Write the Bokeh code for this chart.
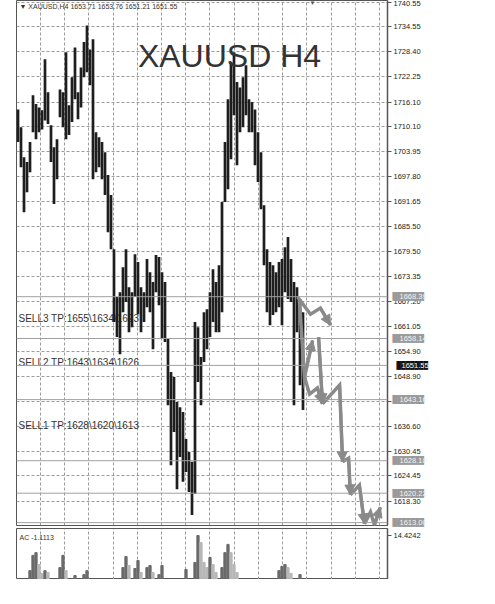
from bokeh.plotting import figure
from bokeh.models import (FixedTicker, PrintfTickFormatter, Span, Label, Arrow,
                          NormalHead, ColumnDataSource, Range1d, LinearAxis,
                          CustomJSTickFormatter)
from bokeh.layouts import column
from bokeh.embed import file_html
from bokeh.resources import INLINE

# ---------------- data ----------------
high = [1714.3, 1709.9, 1702.6, 1701.4, 1706.3, 1717.8, 1715.6, 1714.8, 1714.1, 1726.6,
        1718.5, 1710.4, 1705.0, 1707.0, 1719.2, 1718.5, 1728.3, 1715.3, 1722.2, 1729.5,
        1718.5, 1724.6, 1730.8, 1734.9, 1729.0, 1731.5, 1708.7, 1707.5, 1706.3, 1703.8,
        1698.2, 1693.3, 1680.0, 1668.3, 1669.5, 1675.6, 1680.0, 1670.7, 1669.5, 1678.8,
        1676.9, 1670.7, 1669.5, 1677.6, 1674.4, 1672.0, 1678.6, 1678.1, 1674.4, 1672.0,
        1658.0, 1649.9, 1648.7, 1642.6, 1641.3, 1640.1, 1633.5, 1630.3, 1627.9, 1662.2,
        1660.9, 1653.6, 1664.6, 1665.3, 1669.5, 1675.1, 1672.0, 1676.1, 1691.6, 1706.3,
        1716.8, 1725.9, 1728.3, 1721.0, 1719.7, 1722.2, 1725.1, 1716.8, 1716.1, 1714.3,
        1708.7, 1703.8, 1690.8, 1680.0, 1676.9, 1676.1, 1674.4, 1676.9, 1677.6, 1680.5,
        1683.0, 1677.6, 1672.0, 1670.7, 1667.8, 1664.6]
low = [1706.3, 1700.1, 1689.1, 1694.0, 1698.9, 1708.7, 1707.0, 1708.7, 1709.4, 1711.6,
       1710.7, 1701.4, 1691.1, 1697.2, 1712.4, 1709.9, 1707.0, 1708.0, 1711.2, 1716.8,
       1711.9, 1714.8, 1722.2, 1723.4, 1720.2, 1697.2, 1698.9, 1700.1, 1697.2, 1693.3,
       1684.2, 1680.0, 1662.2, 1658.5, 1654.3, 1664.6, 1667.1, 1659.7, 1660.9, 1668.3,
       1664.1, 1659.7, 1662.2, 1665.8, 1664.6, 1655.5, 1669.5, 1666.3, 1658.0, 1657.3,
       1641.8, 1627.1, 1635.2, 1621.2, 1629.1, 1623.0, 1625.4, 1620.5, 1614.9, 1620.0,
       1647.5, 1641.8, 1652.4, 1655.5, 1658.5, 1662.2, 1659.7, 1659.7, 1664.6, 1691.6,
       1694.7, 1702.1, 1712.9, 1700.6, 1708.7, 1709.9, 1712.9, 1708.7, 1708.7, 1700.6,
       1696.5, 1689.8, 1676.1, 1664.6, 1661.4, 1663.9, 1664.6, 1665.8, 1661.4, 1669.5,
       1667.8, 1667.1, 1641.8, 1659.7, 1646.7, 1640.6]
bar_idx = list(range(len(high)))

price_ticks = [1740.55, 1734.55, 1728.40, 1722.25, 1716.10, 1710.10, 1703.95, 1697.80,
               1691.65, 1685.50, 1679.50, 1673.35, 1667.20, 1661.05, 1654.90, 1648.90,
               1642.75, 1636.60, 1630.45, 1624.45, 1618.30]
bottom_grid = 1612.15

levels = [1668.39, 1658.14, 1651.55, 1643.16, 1628.18, 1620.22, 1613.00]
current_price = 1651.55

# forecast zig-zag arrows (bar index, price)
fc_x = [[93.2, 97.5, 100.8, 104.2],
        [93.8, 95.5, 98.2],
        [100.2, 101.5],
        [95.5, 97.2, 99.8, 101.5],
        [101.5, 107.2, 108.2],
        [108.2, 110.2, 110.8],
        [110.8, 113.8, 115.5],
        [115.5, 117.5, 118.8, 120.8]]
fc_y = [[1668.3, 1664.1, 1665.6, 1661.4],
        [1667.5, 1648.7, 1657.7],
        [1658.5, 1642.1],
        [1648.7, 1644.5, 1646.0, 1642.1],
        [1642.1, 1646.7, 1627.9],
        [1627.9, 1628.8, 1619.8],
        [1619.8, 1622.2, 1612.7],
        [1612.7, 1615.6, 1612.4, 1616.8]]

sell_texts = ["SELL3 TP:1655\\1634\\1623", "SELL2 TP:1643\\1634\\1626", "SELL1 TP:1628\\1620\\1613"]

ac_idx = [4, 5, 6, 7, 8, 9, 10, 14, 15, 16, 19, 22, 23, 35, 36, 37, 39, 40, 41, 43, 44, 45,
          47, 48, 56, 59, 60, 61, 62, 63, 64, 65, 66, 68, 69, 70, 71, 72, 73,
          87, 88, 89, 90, 91, 94]
ac_val = [2.9, 7.9, 8.8, 4.9, 2.0, 2.9, 2.3, 3.9, 7.9, 2.9, 1.3, 1.6, 2.9, 3.9, 7.5, 4.6,
          3.6, 6.2, 2.3, 3.9, 4.6, 2.3, 1.6, 4.6, 3.3, 5.6, 14.4, 12.1, 5.6, 3.9, 7.2, 4.9,
          2.3, 3.9, 8.8, 11.5, 8.8, 4.9, 2.3, 2.9, 4.3, 4.9, 3.9, 2.0, 1.6]
ac_max_label = 14.4242

header_text = "\u25BC XAUUSD,H4  1653.71 1653.76 1651.21 1651.55"
title_text = "XAUUSD H4"
ac_text = "AC -1.1113"

# ---------------- styling helpers ----------------
FONT = "Liberation Sans"
GRID = "#9c9c9c"
n_vgrid = 15
vgrid_ticks = [7.5 + 8.07 * k for k in range(n_vgrid)]
xr = Range1d(-0.5, 123.17)


def style_axis(ax):
    ax.axis_line_color = "#555555"
    ax.axis_line_width = 1.5
    ax.major_tick_out = 4
    ax.major_tick_in = 0
    ax.major_tick_line_color = "#555555"
    ax.minor_tick_line_color = None
    ax.major_label_text_font = FONT
    ax.major_label_text_font_size = "7.5px"
    ax.major_label_text_color = "#222222"
    ax.major_label_standoff = 2


def bare_axis(vals, standoff, **kw):
    return LinearAxis(ticker=FixedTicker(ticks=vals), axis_line_color=None,
                      major_tick_line_color=None, minor_tick_line_color=None,
                      major_tick_out=0, major_tick_in=0,
                      major_label_standoff=standoff, **kw)


def text_tag_axis(vals, fg):
    fmt = CustomJSTickFormatter(code="return tick.toFixed(2) + '\u00a0\u00a0';")
    return bare_axis(vals, -32, formatter=fmt, major_label_text_font=FONT,
                     major_label_text_font_size="7.5px", major_label_text_color=fg)


def box_tag_axis(vals, bg):
    # a row of full-block glyphs gives the filled box behind each price tag
    fmt = CustomJSTickFormatter(code="return '\u2588\u2588\u2588\u2588\u2588\u2588\u2588';")
    return bare_axis(vals, -31, formatter=fmt, major_label_text_font="DejaVu Sans Mono",
                     major_label_text_font_size="7.5px", major_label_text_color=bg)


# ---------------- main price panel ----------------
p1 = figure(frame_width=371, frame_height=525, min_border_left=16, min_border_right=53,
            min_border_top=0, min_border_bottom=3, x_range=xr,
            y_range=Range1d(1612.3, 1741.0), x_axis_location=None, y_axis_location="right",
            output_backend="svg", toolbar_location=None, outline_line_color="#555555",
            background_fill_color="white", border_fill_color="white")
p1.yaxis.ticker = FixedTicker(ticks=price_ticks)
p1.yaxis.formatter = PrintfTickFormatter(format="%.2f")
style_axis(p1.yaxis[0])
p1.xgrid.ticker = FixedTicker(ticks=vgrid_ticks)
p1.ygrid.ticker = FixedTicker(ticks=price_ticks + [bottom_grid])
for g in (p1.xgrid, p1.ygrid):
    g.grid_line_color = GRID
    g.grid_line_dash = "3 2"
    g.grid_line_width = 1

# sell texts (under the bars)
for txt, sy in zip(sell_texts, [207, 163, 100]):
    p1.add_layout(Label(x=2, y=sy, x_units="screen", y_units="screen", text=txt,
                        text_font=FONT, text_font_size="10px", text_color="#333333",
                        text_baseline="middle", level="underlay"))

for lv in levels:
    p1.add_layout(Span(location=lv, dimension="width", line_color="#a0a0a0", line_width=1))

p1.segment(x0=bar_idx, y0=low, x1=bar_idx, y1=high, line_color="#1e1e1e", line_width=2.7)

# forecast arrows
p1.multi_line(xs=fc_x, ys=fc_y, line_color="#8a8a8a", line_width=3.5, line_join="miter")
arr_src = ColumnDataSource(dict(x0=[p[-2] for p in fc_x], y0=[p[-2] for p in fc_y],
                                x1=[p[-1] for p in fc_x], y1=[p[-1] for p in fc_y]))
p1.add_layout(Arrow(end=NormalHead(size=10, fill_color="#8a8a8a", line_color="#8a8a8a"),
                    x_start="x0", y_start="y0", x_end="x1", y_end="y1", source=arr_src,
                    line_color="#8a8a8a", line_width=3))

# price tags on the right scale (extra axes pulled back over the price scale)
gray_levels = [lv for lv in levels if lv != current_price]
p1.add_layout(box_tag_axis(gray_levels, "#9a9a9a"), "right")
p1.add_layout(box_tag_axis([current_price], "#111111"), "right")
p1.add_layout(text_tag_axis(gray_levels, "#f2f2f2"), "right")
p1.add_layout(text_tag_axis([current_price], "#ffffff"), "right")

p1.add_layout(Label(x=3, y=519, x_units="screen", y_units="screen", text=header_text,
                    text_font=FONT, text_font_size="7px", text_color="#333333",
                    text_baseline="middle"))
p1.add_layout(Label(x=296, y=523, x_units="screen", y_units="screen", text="\u25BC",
                    text_font=FONT, text_font_size="6px", text_color="#555555",
                    text_align="center", text_baseline="middle"))
p1.add_layout(Label(x=213, y=470, x_units="screen", y_units="screen", text=title_text,
                    text_font=FONT, text_font_size="32px", text_color="#333333",
                    text_align="center", text_baseline="alphabetic"))

# ---------------- AC indicator panel ----------------
p2 = figure(frame_width=371, frame_height=51, min_border_left=16, min_border_right=53,
            min_border_top=0, min_border_bottom=0, x_range=xr, y_range=Range1d(0, 16.7),
            x_axis_location=None, y_axis_location="right", output_backend="svg",
            toolbar_location=None, outline_line_color="#555555",
            background_fill_color="white", border_fill_color="white")
p2.yaxis.ticker = FixedTicker(ticks=[ac_max_label])
p2.yaxis.formatter = PrintfTickFormatter(format="%.4f")
style_axis(p2.yaxis[0])
p2.xgrid.ticker = FixedTicker(ticks=vgrid_ticks)
p2.xgrid.grid_line_color = GRID
p2.xgrid.grid_line_dash = "3 2"
p2.ygrid.grid_line_color = None

ac_colors = []
for k, v in enumerate(ac_val):
    prev = ac_val[k - 1] if k > 0 and ac_idx[k - 1] == ac_idx[k] - 1 else 0
    ac_colors.append("#6a6a6a" if v >= prev else "#b8b8b8")
p2.vbar(x=ac_idx, top=ac_val, bottom=0, width=0.75, color=ac_colors)
p2.add_layout(Label(x=3, y=42, x_units="screen", y_units="screen", text=ac_text,
                    text_font=FONT, text_font_size="7px", text_color="#333333",
                    text_baseline="middle"))

layout = column(p1, p2)
open("out.html", "w").write(file_html(layout, INLINE))
